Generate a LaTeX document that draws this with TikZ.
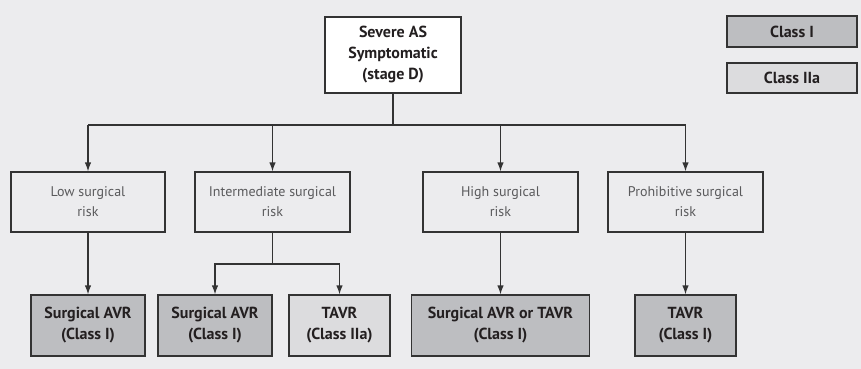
\documentclass[tikz,border=0pt]{standalone}
\usepackage{fontspec}
\setmainfont{PT Sans}
\usetikzlibrary{arrows.meta}
\definecolor{bg}{HTML}{ECECEE}
\definecolor{darkfill}{HTML}{BDBEC1}
\definecolor{lightfill}{HTML}{DCDCDE}
\definecolor{linec}{HTML}{333333}
\definecolor{txt}{HTML}{231F20}
\definecolor{greytxt}{HTML}{5A5A5C}
\tikzset{
  base/.style={draw=linec, line width=1.2pt, align=center, inner sep=2pt},
  boldtxt/.style={font=\bfseries\fontsize{16}{21}\selectfont, text=txt},
  topbox/.style={base, fill=white, boldtxt},
  riskbox/.style={base, fill=bg, font=\fontsize{14}{20}\selectfont, text=greytxt, minimum height=60pt},
  cls1/.style={base, fill=darkfill, boldtxt, minimum height=61pt},
  cls2/.style={base, fill=lightfill, boldtxt, minimum height=61pt},
  conn/.style={draw=linec, line width=1.2pt},
  arr/.style={conn, -{Latex[length=9pt,width=6.5pt]}},
}
\begin{document}
\begin{tikzpicture}[x=1pt,y=-1pt]
\fill[bg] (0,0) rectangle (861,369);
\useasboundingbox (0,0) rectangle (861,369);
% top
\node[topbox, minimum width=136pt, minimum height=76pt] (top) at (393,55) {Severe AS\\Symptomatic\\(stage D)};
% legend
\node[base, fill=darkfill, boldtxt, minimum width=130pt, minimum height=31pt] (leg1) at (792,31.5) {Class I};
\node[base, fill=lightfill, boldtxt, minimum width=130pt, minimum height=30pt] (leg2) at (792,78) {Class IIa};
% risk row
\node[riskbox, minimum width=154pt] (low) at (88,202) {Low surgical\\risk};
\node[riskbox, minimum width=155pt] (int) at (272.5,202) {Intermediate surgical\\risk};
\node[riskbox, minimum width=155pt] (high) at (500.5,202) {High surgical\\risk};
\node[riskbox, minimum width=155pt] (proh) at (685.5,202) {Prohibitive surgical\\risk};
% result row
\node[cls1, minimum width=114pt] (rlow) at (88,325.5) {Surgical AVR\\(Class I)};
\node[cls1, minimum width=114pt] (rint1) at (215,325.5) {Surgical AVR\\(Class I)};
\node[cls2, minimum width=101pt] (rint2) at (339.5,325.5) {TAVR\\(Class IIa)};
\node[cls1, minimum width=178pt] (rhigh) at (500.5,325.5) {Surgical AVR or TAVR\\(Class I)};
\node[cls1, minimum width=101pt] (rproh) at (685.5,325.5) {TAVR\\(Class I)};
% connectors
\coordinate (j) at (393,125);
\coordinate (k) at (272.5,264);
\draw[conn] (top.south) -- (j);
\draw[conn] (low.north |- j) -- (proh.north |- j);
\draw[arr] (low.north |- j) -- (low.north);
\draw[arr] (int.north |- j) -- (int.north);
\draw[arr] (high.north |- j) -- (high.north);
\draw[arr] (proh.north |- j) -- (proh.north);
\draw[arr] (low.south) -- (rlow.north);
\draw[conn] (int.south) -- (k);
\draw[arr] (k) -| (rint1.north);
\draw[arr] (k) -| (rint2.north);
\draw[arr] (high.south) -- (rhigh.north);
\draw[arr] (proh.south) -- (rproh.north);
\end{tikzpicture}
\end{document}
